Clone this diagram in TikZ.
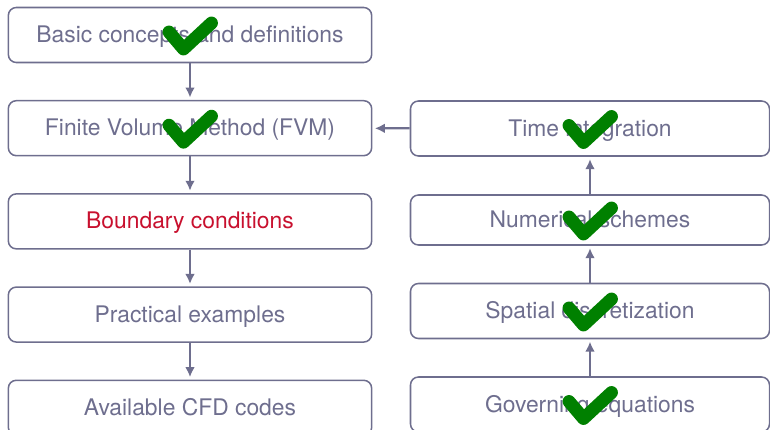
\documentclass[tikz,border=0pt]{standalone}
\usepackage{fontspec}
\setmainfont{TeX Gyre Heros}
\usetikzlibrary{arrows.meta,positioning}
\definecolor{slate}{HTML}{6E6E8E}
\definecolor{crimson}{HTML}{C8102E}
\definecolor{okgreen}{HTML}{008000}
\def\dx{0.03cm}
\def\dy{1.10cm}
\tikzstyle{topic} = [rectangle, rounded corners=0.24cm, draw=slate, line width=1.3pt, text=slate, minimum width=10.9cm, minimum height=1.65cm, inner sep=0pt, text height=14pt, text depth=1pt, font=\fontsize{19.5}{23}\selectfont]
\tikzstyle{arrow} = [line width=1.9pt, draw=slate, -{Latex[length=3mm,width=2.9mm]}, shorten >=2pt]
\tikzstyle{checked} = [line width=11pt, draw=okgreen, line cap=round, line join=round]
\def\done#1{\draw[checked,shift={(#1.center)}] (-21,-3) -- (-6.5,14) -- (21.5,-12);}

\begin{document}
\begin{tikzpicture}[x=\dx,y=-\dx,node distance=\dy]
  \useasboundingbox (0,0) rectangle (770,430);
  % left column
  \node[topic] (basic) at (190,35) {Basic concepts and definitions};
  \node[topic, below=of basic] (fvm) {Finite Volume Method (FVM)};
  \node[topic, below=of fvm, text=crimson] (bc) {Boundary conditions};
  \node[topic, below=of bc] (examples) {Practical examples};
  \node[topic, below=of examples] (codes) {Available CFD codes};
  % right column
  \node[topic, minimum width=10.77cm] (time) at (590,128.5) {Time integration};
  \node[topic, minimum width=10.77cm, minimum height=1.5cm] (schemes) at (590,220) {Numerical schemes};
  \node[topic, minimum width=10.77cm] (spatial) at (590,311) {Spatial discretization};
  \node[topic, minimum width=10.77cm] (governing) at (590,404.5) {Governing equations};
  % arrows
  \draw[arrow] (basic) -- (fvm);
  \draw[arrow] (fvm) -- (bc);
  \draw[arrow] (bc) -- (examples);
  \draw[arrow] (examples) -- (codes);
  \draw[arrow] (governing) -- (spatial);
  \draw[arrow] (spatial) -- (schemes);
  \draw[arrow] (schemes) -- (time);
  \draw[arrow] (time) -- (fvm);
  % done marks
  \done{basic}
  \done{fvm}
  \done{time}
  \done{schemes}
  \done{spatial}
  \done{governing}
\end{tikzpicture}
\end{document}
